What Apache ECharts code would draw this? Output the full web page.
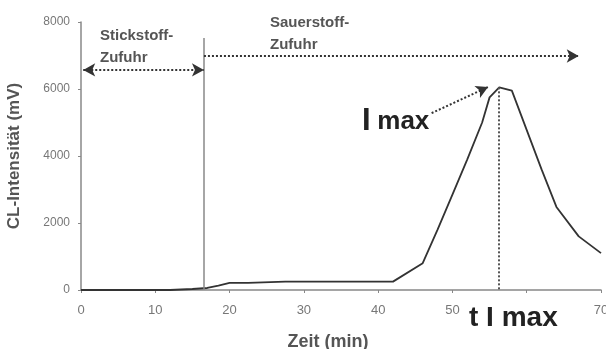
<!DOCTYPE html>
<html><head><meta charset="utf-8">
<script src="https://cdn.jsdelivr.net/npm/echarts@6/dist/echarts.min.js"></script>
<style>html,body{margin:0;padding:0;background:#fff}#c{width:606px;height:349px}</style>
</head><body><div id="c"></div>
<script>
// Data (time in min, CL intensity in mV)
const time = [0, 12, 15, 17, 18.5, 20, 22.5, 27.5, 42, 46, 48, 50, 52, 54, 55, 56.3, 58, 62, 64, 67, 70];
const cl   = [0, 0, 30, 60, 130, 210, 210, 250, 250, 800, 1800, 2850, 3900, 5000, 5750, 6050, 5950, 3600, 2480, 1600, 1100];
const xTicks = [0, 10, 20, 30, 40, 50, 60, 70];
const yTicks = [0, 2000, 4000, 6000, 8000];
const switchTime = 16.55;   // Stickstoff -> Sauerstoff
const peakTime = 56.3, peakValue = 6050;

const chart = echarts.init(document.getElementById('c'));
const dark = '#333';
chart.setOption({
  animation: false,
  grid: {left: 81, right: 5, top: 22, bottom: 59, containLabel: false, outerBoundsMode: 'none'},
  xAxis: {
    type: 'value', min: xTicks[0], max: xTicks[xTicks.length - 1], interval: 10,
    splitLine: {show: false},
    axisLine: {lineStyle: {color: '#888', width: 1.5}},
    axisTick: {show: true, inside: false, length: 3, lineStyle: {color: '#888'}},
    axisLabel: {color: '#777', fontSize: 13, fontFamily: 'Liberation Sans', margin: 14, formatter: v => String(v)},
    name: 'Zeit (min)', nameLocation: 'middle', nameGap: 43,
    nameTextStyle: {color: '#555', fontSize: 18, fontWeight: 'bold', fontFamily: 'Liberation Sans', padding: [0, 26, 0, 0]}
  },
  yAxis: {
    type: 'value', min: yTicks[0], max: yTicks[yTicks.length - 1], interval: 2000,
    splitLine: {show: false},
    axisLine: {show: true, lineStyle: {color: '#888', width: 1.5}},
    axisTick: {show: true, length: 3, lineStyle: {color: '#888'}},
    axisLabel: {color: '#777', fontSize: 12, fontFamily: 'Liberation Sans', margin: 11, formatter: v => String(v)},
    name: 'CL-Intensität (mV)', nameLocation: 'middle', nameGap: 58,
    nameTextStyle: {color: '#555', fontSize: 17, fontWeight: 'bold', fontFamily: 'Liberation Sans'}
  },
  series: [{
    type: 'line',
    data: time.map((t, i) => [t, cl[i]]),
    showSymbol: false,
    lineStyle: {color: dark, width: 1.8},
    markLine: {
      silent: true,
      label: {show: false},
      data: [
        [{coord: [switchTime, 7520], symbol: 'none', lineStyle: {type: 'solid', color: '#888', width: 1.5}},
         {coord: [switchTime, 0], symbol: 'none'}],
        [{coord: [0.3, 6570], symbol: 'arrow', symbolSize: [10, 12], lineStyle: {type: 'dotted', color: dark, width: 2}},
         {coord: [switchTime, 6570], symbol: 'arrow', symbolSize: [10, 12]}],
        [{coord: [switchTime, 6985], symbol: 'none', lineStyle: {type: 'dotted', color: dark, width: 2}},
         {coord: [67, 6985], symbol: 'arrow', symbolSize: [10, 12]}],
        [{coord: [peakTime, peakValue], symbol: 'none', lineStyle: {type: 'dotted', color: '#555', width: 2}},
         {coord: [peakTime, 0], symbol: 'none'}],
        [{coord: [47.2, 5280], symbol: 'none', lineStyle: {type: 'dotted', color: dark, width: 2}},
         {coord: [54.8, 6060], symbol: 'arrow', symbolSize: [10, 12]}]
      ]
    }
  }],
  graphic: [
    {type: 'text', left: 100, top: 25, style: {text: 'Stickstoff-\nZufuhr', fill: '#555', font: 'bold 15px "Liberation Sans"', lineHeight: 22}},
    {type: 'text', left: 270, top: 12, style: {text: 'Sauerstoff-\nZufuhr', fill: '#555', font: 'bold 15px "Liberation Sans"', lineHeight: 22}},
    {type: 'text', left: 362, top: 106, style: {text: '{a|I}  {b|max}', fill: '#222',
      rich: {a: {fontSize: 31, fontWeight: 'bold', fontFamily: 'Liberation Sans', fill: '#222'},
             b: {fontSize: 26, fontWeight: 'bold', fontFamily: 'Liberation Sans', fill: '#222'}}}},
    {type: 'text', left: 466, top: 302, z: 100, style: {text: 't I max', fill: '#222', font: 'bold 28px "Liberation Sans"',
      backgroundColor: '#fff', padding: [2, 3, 0, 3]}}
  ]
});
</script></body></html>
